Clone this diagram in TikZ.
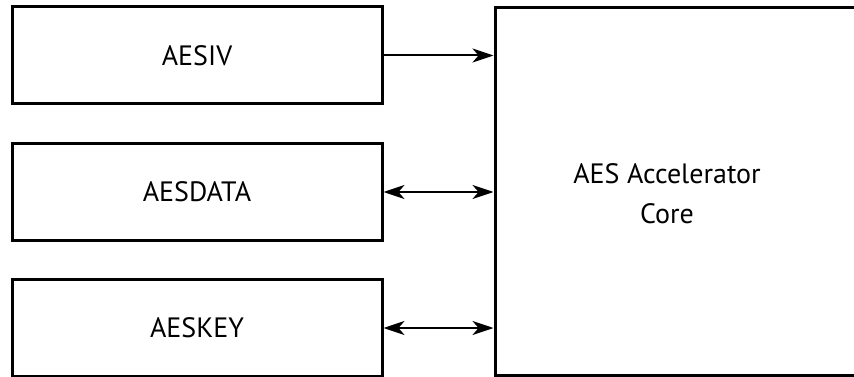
\documentclass[tikz,border=0pt]{standalone}
\usepackage{fontspec}
\setmainfont{PT Sans}
\usetikzlibrary{arrows.meta}
\begin{document}
\begin{tikzpicture}[x=1pt,y=-1pt,
  reg/.style={draw=black, line width=3pt, minimum width=370pt, minimum height=97pt, inner sep=0pt, font=\fontsize{28}{40}\selectfont},
  conn/.style={line width=2pt, -{Stealth[length=21pt,width=14pt,inset=6pt]}},
  bconn/.style={line width=2pt, {Stealth[length=21pt,width=14pt,inset=6pt]}-{Stealth[length=21pt,width=14pt,inset=6pt]}}]
\useasboundingbox (0,0) rectangle (854,377);
\begin{scope}
\clip (0,0) rectangle (854,377);
\node[reg] (iv) at (197,55.5) {AESIV};
\node[reg] (data) at (197,192) {AESDATA};
\node[reg] (key) at (197,328) {AESKEY};
\node[draw=black, line width=3pt, minimum width=380pt, minimum height=368.5pt, inner sep=0pt] (core) at (685,191.5) {};
\end{scope}
\node[font=\fontsize{28}{40}\selectfont, align=center] (corelabel) at (667,194) {AES Accelerator\\Core};
\draw[conn] (iv.east) -- (iv.east -| core.west);
\draw[bconn] (data.east) -- (data.east -| core.west);
\draw[bconn] (key.east) -- (key.east -| core.west);
\end{tikzpicture}
\end{document}
